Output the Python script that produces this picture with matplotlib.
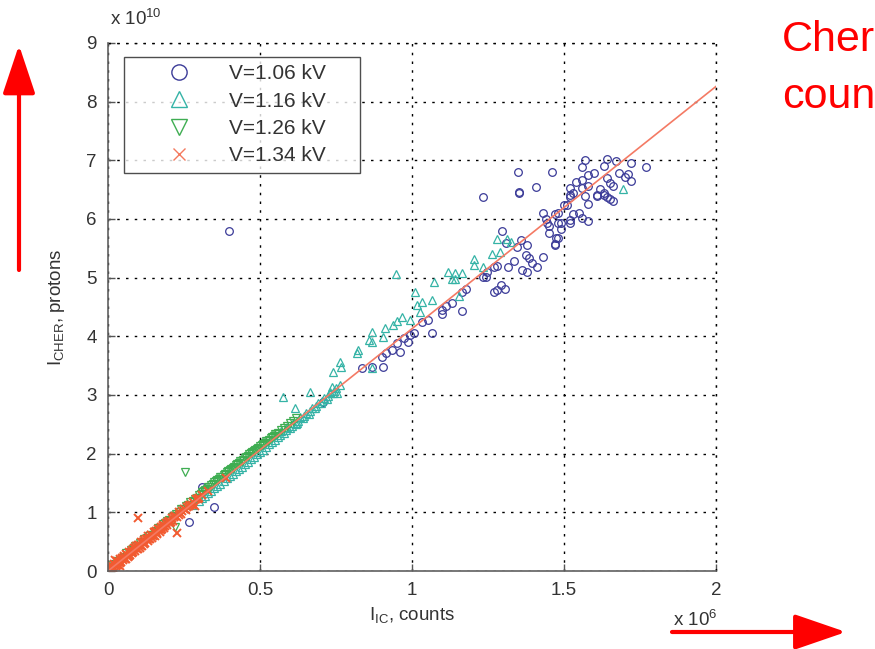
import numpy as np
import matplotlib
matplotlib.use('Agg')
import matplotlib.pyplot as plt
from matplotlib.lines import Line2D

plt.rcParams['font.family'] = ['Liberation Sans', 'DejaVu Sans']
plt.rcParams['mathtext.fontset'] = 'custom'
plt.rcParams['mathtext.rm'] = 'Liberation Sans'
plt.rcParams['mathtext.it'] = 'Liberation Sans:italic'

# x in units of 1e6 counts, y in units of 1e10 protons
v106_x = [1.46, 1.57, 1.64, 1.67, 1.72, 1.77, 1.56, 1.63, 1.54, 1.56, 1.58, 1.60, 1.64, 1.68,
          1.71, 1.70, 1.72, 1.65, 1.66, 1.52, 1.56, 1.58, 1.62, 1.63, 1.53, 1.57, 1.61, 1.64,
          1.65, 1.66, 1.52, 1.58, 1.51, 1.43, 1.47, 1.48, 1.53, 1.55, 1.56, 1.58, 1.44, 1.52,
          1.52, 1.45, 1.49, 1.49, 1.45, 1.48, 1.47, 1.43,
          1.235, 1.353, 1.50, 1.52, 1.61, 1.63, 1.445, 1.48, 1.475, 1.47, 1.35, 1.353, 1.409,
          1.297, 1.31, 1.346, 1.36, 1.379, 1.376, 1.386, 1.396, 1.412, 1.337, 1.317, 1.363,
          1.379, 1.271, 1.281, 1.248, 1.232, 1.245, 1.294, 1.307, 1.278, 1.271, 1.179, 1.163,
          1.133, 1.113, 1.10, 1.10, 1.166, 1.054, 1.034, 1.067, 1.008, 0.992, 0.975, 0.988,
          0.952, 0.933, 0.959, 0.916, 0.90, 0.837, 0.903, 0.87, 0.706,
          0.309, 0.348, 0.266, 0.397, 0.01, 0.02]
v106_y = [6.80, 7.01, 7.02, 6.99, 6.95, 6.89, 6.89, 6.90, 6.63, 6.66, 6.75, 6.78, 6.70, 6.78,
          6.77, 6.72, 6.65, 6.61, 6.56, 6.53, 6.53, 6.56, 6.51, 6.44, 6.44, 6.39, 6.39, 6.37,
          6.34, 6.31, 6.37, 6.26, 6.24, 6.10, 6.08, 6.10, 6.08, 6.10, 6.02, 5.97, 6.00, 5.98,
          5.93, 5.88, 5.93, 5.83, 5.76, 5.68, 5.56, 5.35,
          6.37, 6.44, 6.24, 6.41, 6.41, 6.41, 5.93, 5.93, 5.68, 5.57, 6.80, 6.46, 6.55,
          5.80, 5.59, 5.52, 5.64, 5.56, 5.39, 5.33, 5.25, 5.18, 5.28, 5.18, 5.13,
          5.10, 5.18, 5.20, 5.10, 5.01, 5.01, 4.87, 4.81, 4.79, 4.76, 4.81, 4.76,
          4.57, 4.52, 4.45, 4.38, 4.43, 4.28, 4.24, 4.06, 4.06, 4.02, 3.97, 3.90,
          3.89, 3.77, 3.73, 3.72, 3.65, 3.46, 3.48, 3.47, 2.88,
          1.43, 1.09, 0.84, 5.80, 0.05, 0.08]

v116_x = [1.695, 1.281, 1.314, 1.327, 1.264, 1.291, 1.205, 1.205, 1.232, 1.117, 1.140, 1.163,
          1.130, 1.143, 1.074, 1.156, 1.067, 0.949, 1.011, 1.034, 1.018, 1.025, 0.966, 0.952,
          0.936, 0.992, 0.910, 0.870, 0.903, 0.867, 0.860, 0.824, 0.818, 0.762, 0.768, 0.739,
          0.870, 0.762, 0.736, 0.575, 0.663, 0.729, 0.752, 0.614, 0.621,
          0.28, 0.30, 0.32, 0.34, 0.36, 0.38, 0.40, 0.42, 0.44, 0.46, 0.48, 0.50, 0.52, 0.54,
          0.56, 0.57, 0.58, 0.59, 0.60, 0.61, 0.62, 0.63, 0.64, 0.65, 0.66, 0.67, 0.68, 0.69,
          0.70, 0.71, 0.72, 0.73, 0.74, 0.75,
          0.31, 0.33, 0.35, 0.37, 0.39, 0.41, 0.43, 0.45, 0.47, 0.49, 0.51, 0.53, 0.55,
          0.565, 0.585, 0.605, 0.625, 0.645, 0.665, 0.685, 0.705, 0.725, 0.745]
v116_y = [6.51, 5.66, 5.66, 5.61, 5.40, 5.44, 5.32, 5.22, 5.18, 5.10, 5.08, 5.08,
          4.98, 4.98, 4.93, 4.69, 4.62, 5.06, 4.76, 4.58, 4.53, 4.41, 4.33, 4.26,
          4.19, 4.28, 4.14, 4.07, 3.99, 3.90, 3.94, 3.77, 3.72, 3.56, 3.48, 3.39,
          3.46, 3.17, 3.14, 2.97, 3.05, 3.05, 3.03, 2.78, 2.52,
          1.12, 1.20, 1.28, 1.37, 1.45, 1.53, 1.62, 1.70, 1.78, 1.86, 1.95, 2.03, 2.11, 2.20,
          2.28, 2.38, 2.35, 2.46, 2.44, 2.53, 2.51, 2.62, 2.60, 2.70, 2.68, 2.78, 2.77, 2.87,
          2.86, 2.95, 2.94, 3.04, 3.03, 3.12,
          1.24, 1.33, 1.41, 1.49, 1.58, 1.66, 1.74, 1.83, 1.91, 1.99, 2.07, 2.16, 2.24,
          2.31, 2.40, 2.48, 2.56, 2.65, 2.73, 2.82, 2.90, 2.99, 3.07]

v126_x = [0.003, 0.015, 0.03, 0.045, 0.06, 0.075, 0.09, 0.105, 0.12, 0.135, 0.15, 0.165, 0.18,
          0.195, 0.21, 0.225, 0.24, 0.255, 0.27, 0.285, 0.30, 0.31, 0.32, 0.33, 0.34, 0.35,
          0.36, 0.37, 0.38, 0.39, 0.40, 0.41, 0.42, 0.43, 0.44, 0.45, 0.46, 0.47, 0.48, 0.49,
          0.50, 0.51, 0.52, 0.53, 0.54, 0.55, 0.56, 0.58, 0.60, 0.62, 0.253, 0.220,
          0.008, 0.022, 0.038, 0.052, 0.068, 0.082, 0.098, 0.112, 0.128, 0.142, 0.158, 0.172,
          0.188, 0.202, 0.218, 0.232, 0.248, 0.262, 0.278, 0.292, 0.305, 0.315, 0.325, 0.335,
          0.345, 0.355, 0.365, 0.375, 0.385, 0.395, 0.405, 0.415, 0.425, 0.435, 0.445, 0.455,
          0.465, 0.475, 0.485, 0.495, 0.505, 0.515, 0.525, 0.535, 0.545, 0.555, 0.57, 0.59, 0.61]
v126_y = [0.00, 0.10, 0.17, 0.22, 0.30, 0.36, 0.42, 0.48, 0.55, 0.60, 0.67, 0.73, 0.80,
          0.85, 0.92, 0.98, 1.05, 1.10, 1.17, 1.23, 1.30, 1.35, 1.38, 1.43, 1.47, 1.52,
          1.55, 1.60, 1.64, 1.68, 1.72, 1.76, 1.80, 1.84, 1.88, 1.93, 1.96, 2.01, 2.05, 2.08,
          2.13, 2.16, 2.21, 2.24, 2.28, 2.33, 2.36, 2.44, 2.52, 2.60, 1.69, 0.75,
          0.05, 0.12, 0.18, 0.24, 0.31, 0.37, 0.43, 0.50, 0.56, 0.62, 0.69, 0.74,
          0.81, 0.87, 0.93, 1.00, 1.06, 1.12, 1.19, 1.25, 1.31, 1.36, 1.40, 1.44,
          1.49, 1.53, 1.57, 1.61, 1.66, 1.70, 1.74, 1.78, 1.82, 1.87, 1.90, 1.94,
          1.99, 2.03, 2.06, 2.10, 2.14, 2.19, 2.22, 2.26, 2.30, 2.34, 2.40, 2.48, 2.56]

v134_x = [0.005, 0.01, 0.012, 0.018, 0.02, 0.025, 0.03, 0.032, 0.038, 0.04, 0.045, 0.05, 0.052,
          0.058, 0.06, 0.065, 0.07, 0.073, 0.078, 0.08, 0.085, 0.09, 0.093, 0.098, 0.10, 0.105,
          0.11, 0.113, 0.118, 0.12, 0.125, 0.13, 0.133, 0.138, 0.14, 0.145, 0.15, 0.153, 0.158,
          0.16, 0.165, 0.17, 0.173, 0.178, 0.18, 0.185, 0.19, 0.195, 0.20, 0.205, 0.21, 0.215,
          0.22, 0.228, 0.235, 0.24, 0.25, 0.26, 0.27, 0.28, 0.29, 0.30, 0.31, 0.33,
          0.099, 0.227, 0.286, 0.388, 0.023, 0.039,
          0.003, 0.008, 0.015, 0.022, 0.028, 0.035, 0.042, 0.048, 0.055, 0.062, 0.068, 0.075,
          0.082, 0.088, 0.095, 0.102, 0.108, 0.115, 0.122, 0.128, 0.135, 0.142, 0.148, 0.155,
          0.162, 0.168, 0.175, 0.182, 0.188, 0.198, 0.208, 0.218, 0.232, 0.245, 0.255, 0.265,
          0.275, 0.295]
v134_y = [0.05, 0.02, 0.09, 0.05, 0.12, 0.08, 0.17, 0.10, 0.20, 0.13, 0.22, 0.18, 0.25,
          0.21, 0.29, 0.24, 0.33, 0.27, 0.36, 0.30, 0.39, 0.34, 0.42, 0.37, 0.45, 0.40,
          0.49, 0.43, 0.53, 0.46, 0.55, 0.51, 0.59, 0.54, 0.62, 0.57, 0.66, 0.60, 0.69,
          0.63, 0.72, 0.67, 0.75, 0.71, 0.78, 0.74, 0.82, 0.78, 0.86, 0.82, 0.90, 0.86,
          0.94, 0.92, 1.00, 0.97, 1.05, 1.09, 1.13, 1.18, 1.22, 1.25, 1.30, 1.36,
          0.90, 0.65, 1.11, 1.58, 0.19, 0.09,
          0.03, 0.06, 0.04, 0.11, 0.10, 0.16, 0.16, 0.22, 0.21, 0.28, 0.26, 0.33,
          0.32, 0.39, 0.37, 0.45, 0.43, 0.50, 0.48, 0.55, 0.54, 0.61, 0.60, 0.66,
          0.65, 0.72, 0.70, 0.77, 0.76, 0.84, 0.84, 0.92, 0.95, 1.03, 1.04, 1.11,
          1.13, 1.23]

fit_slope = 4.13   # 1e10 protons per 1e6 counts
fit_x = [0.0, 2.0]

series = [
    (v106_x, v106_y, 'V=1.06 kV', 'o', '#3b3b98'),
    (v116_x, v116_y, 'V=1.16 kV', '^', '#35b3a6'),
    (v126_x, v126_y, 'V=1.26 kV', 'v', '#3fad52'),
    (v134_x, v134_y, 'V=1.34 kV', 'x', '#f25a30'),
]

fig = plt.figure(figsize=(8.75, 6.49), dpi=100)
ax = fig.add_axes([108 / 875, 1 - 571 / 649, (716 - 108) / 875, (571 - 43) / 649])

handles = []
for xs, ys, lab, mk, col in series:
    if mk == 'x':
        ax.plot(xs, ys, linestyle='none', marker=mk, ms=5.5, mew=1.4, color=col)
        legcol = '#f47a5e'
    else:
        ax.plot(xs, ys, linestyle='none', marker=mk, ms=5.5, mew=0.9,
                mfc='none', mec=col)
        legcol = col
    handles.append(Line2D([], [], linestyle='none', marker=mk, ms=11 if mk != 'x' else 8,
                          mew=1.0, mfc='none', mec=legcol, color=legcol, label=lab))

fx = np.array(fit_x)
ax.plot(fx, fit_slope * fx, color='#f47a64', lw=1.2)

ax.set_xlim(0, 2)
ax.set_ylim(0, 9)
ax.set_xticks([0, 0.5, 1, 1.5, 2])
ax.set_xticklabels(['0', '0.5', '1', '1.5', '2'])
ax.set_yticks(range(10))
ax.tick_params(direction='in', length=5, width=1, color='#555555', labelsize=13.5,
               labelcolor='#333333', pad=8)
ax.grid(True, color='black', lw=1.0, linestyle=(0, (1.8, 4.5)))
for s in ['top', 'right']:
    ax.spines[s].set_visible(False)
for s in ['left', 'bottom']:
    ax.spines[s].set_color('#606060')
    ax.spines[s].set_linewidth(1.2)
# dotted border at the top and right like the grid
ax.axhline(9, color='black', lw=1.0, linestyle=(0, (1.8, 4.5)), clip_on=False)
ax.axvline(2, color='black', lw=1.0, linestyle=(0, (1.8, 4.5)), clip_on=False)

ax.set_xlabel(r'I$_{\mathregular{IC}}$, counts', fontsize=13.5, color='#333333', labelpad=4)
ax.set_ylabel(r'I$_{\mathregular{CHER}}$, protons', fontsize=13.5, color='#333333', labelpad=14)

leg = ax.legend(handles=handles, loc='upper left',
                bbox_to_anchor=(16 / 608, 1 - 14 / 528, 236 / 608, 0), mode='expand',
                fontsize=15, frameon=True, fancybox=False, borderpad=0.35,
                labelspacing=0.4, handlelength=4.6, handletextpad=0.1, numpoints=1,
                borderaxespad=0)
leg.get_frame().set_edgecolor('#222222')
leg.get_frame().set_linewidth(1.0)
for t in leg.get_texts():
    t.set_color('#333333')

fig.text(110 / 875, 1 - 29 / 649, r'x 10$^{\mathregular{10}}$', fontsize=13.5,
         color='#333333', ha='left', va='bottom')
fig.text(673 / 875, 1 - 610 / 649, r'x 10$^{\mathregular{6}}$', fontsize=13.5,
         color='#333333', ha='left', va='top')

# red annotation arrows and text
ax.annotate('', xy=(19 / 875, 1 - 45 / 649), xytext=(19 / 875, 1 - 270 / 649),
            xycoords='figure fraction', textcoords='figure fraction',
            arrowprops=dict(arrowstyle='-|>,head_length=30,head_width=10', color='#ff0000',
                            lw=3, shrinkA=0, shrinkB=0, mutation_scale=1))
ax.annotate('', xy=(846 / 875, 1 - 632 / 649), xytext=(672 / 875, 1 - 632 / 649),
            xycoords='figure fraction', textcoords='figure fraction',
            arrowprops=dict(arrowstyle='-|>,head_length=32,head_width=11', color='#ff0000',
                            lw=3, shrinkA=0, shrinkB=0, mutation_scale=1))
fig.text(782 / 875, 1 - 51 / 649, 'Cher', fontsize=31, color='#ff0000',
         ha='left', va='baseline')
fig.text(782 / 875, 1 - 108 / 649, 'coun', fontsize=31, color='#ff0000',
         ha='left', va='baseline')

fig.savefig('out.png', dpi=100)
